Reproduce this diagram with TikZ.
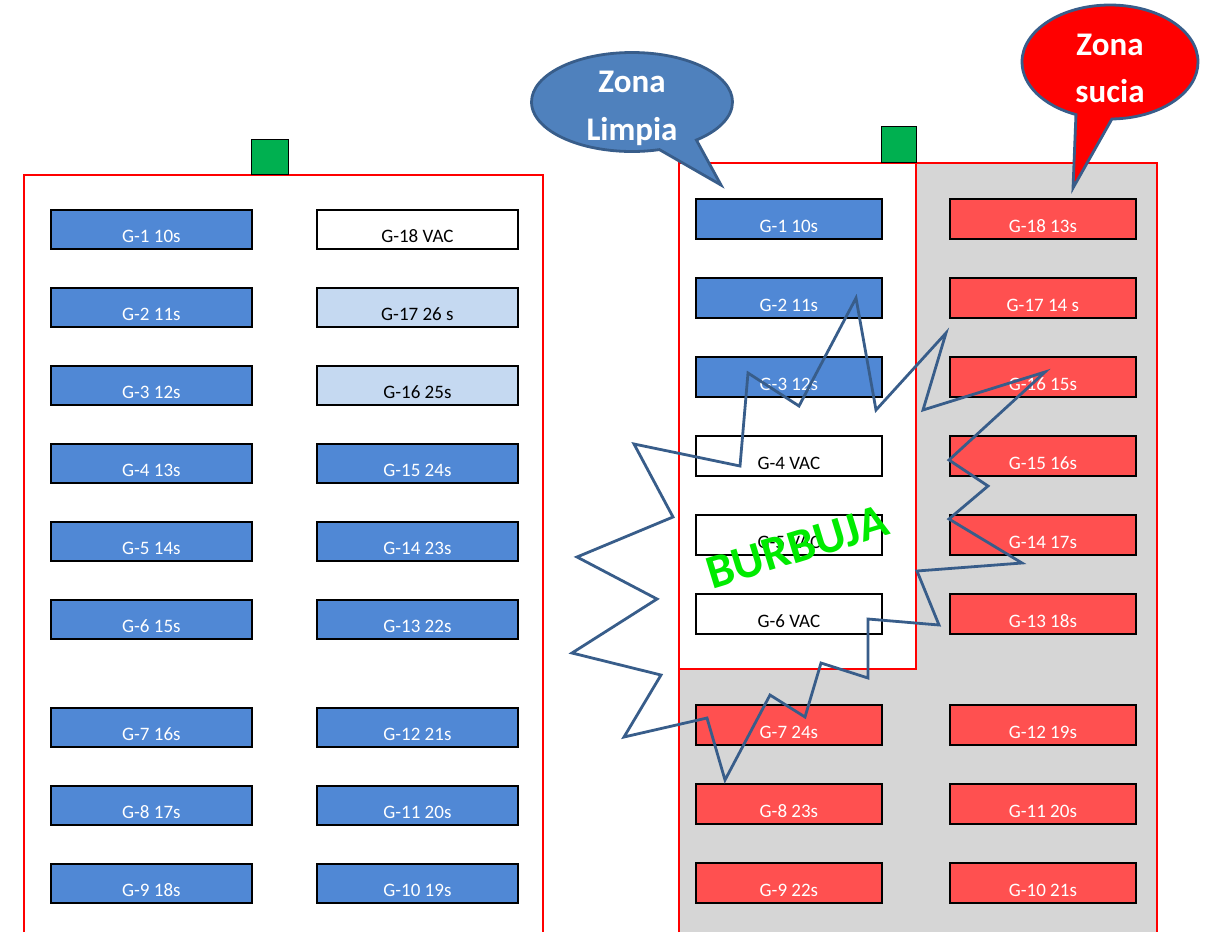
\documentclass[tikz,border=0pt]{standalone}
\usepackage{fontspec}
\setmainfont{Carlito}
\usetikzlibrary{shapes.callouts}
\definecolor{gblue}{RGB}{80,136,213}
\definecolor{glight}{RGB}{197,217,241}
\definecolor{gred}{RGB}{255,80,80}
\definecolor{ggray}{RGB}{214,214,214}
\definecolor{ggreen}{RGB}{0,176,80}
\definecolor{cblue}{RGB}{79,129,189}
\definecolor{cline}{RGB}{56,93,138}
\definecolor{bubgreen}{RGB}{0,235,0}
\tikzset{
  gbox/.style={draw=black, line width=1.8pt, inner sep=0pt, anchor=north west,
    font=\fontsize{19}{21}\selectfont, text depth=6pt},
  leftbox/.style={gbox, minimum width=201pt, minimum height=39pt, text height=33pt},
  rightbox/.style={gbox, minimum width=186pt, minimum height=40pt, text height=34pt},
  bluebox/.style={fill=gblue, text=white},
  lightbox/.style={fill=glight, text=black},
  vacbox/.style={fill=white, text=black},
  redbox/.style={fill=gred, text=white},
  wall/.style={draw=red, line width=1.3pt},
  door/.style={draw=black, line width=0.8pt, fill=ggreen, inner sep=0pt, anchor=south west},
  bubble/.style={ellipse callout, draw=cline, line width=2.8pt, inner sep=0pt,
    callout pointer arc=24},
  bubtext/.style={text=white, anchor=base, font=\bfseries\fontsize{33}{40}\selectfont},
}
\begin{document}
\begin{tikzpicture}[x=1pt, y=-1pt]
\useasboundingbox (0,0) rectangle (1205,932);
\fill[white] (0,0) rectangle (1205,932);

% ---- left room ----
\draw[wall] (24,932) -- (24,175) -- (543,175) -- (543,932);
\node[door, minimum width=37pt, minimum height=35pt] (doorL) at (251,175) {};

\foreach \n/\y/\t in {1/209/G-1 10s, 2/287/G-2 11s, 3/365/G-3 12s, 4/443/G-4 13s,
    5/521/G-5 14s, 6/599/G-6 15s, 7/707/G-7 16s, 8/785/G-8 17s, 9/863/G-9 18s}
  \node[leftbox, bluebox] (La\n) at (50,\y) {\t};

\node[leftbox, vacbox]   (Lb1) at (316,209) {G-18 VAC};
\node[leftbox, lightbox] (Lb2) at (316,287) {G-17 26 s};
\node[leftbox, lightbox] (Lb3) at (316,365) {G-16 25s};
\foreach \n/\y/\t in {4/443/G-15 24s, 5/521/G-14 23s, 6/599/G-13 22s,
    7/707/G-12 21s, 8/785/G-11 20s, 9/863/G-10 19s}
  \node[leftbox, bluebox] (Lb\n) at (316,\y) {\t};

% ---- right room: dirty zone with clean zone inside ----
\fill[ggray] (679,163) rectangle (1157,932);
\draw[wall] (679,932) -- (679,163) -- (1157,163) -- (1157,932);
\filldraw[wall, fill=white] (679,163) rectangle (916,669);
\node[door, minimum width=35pt, minimum height=36pt] (doorR) at (881,163) {};

\foreach \n/\y/\t in {1/198/G-1 10s, 2/277/G-2 11s, 3/356/G-3 12s}
  \node[rightbox, bluebox] (Ra\n) at (695,\y) {\t};
\foreach \n/\y/\t in {4/435/G-4 VAC, 5/514/G-5 VAC, 6/593/G-6 VAC}
  \node[rightbox, vacbox] (Ra\n) at (695,\y) {\t};
\foreach \n/\y/\t in {7/704/G-7 24s, 8/783/G-8 23s, 9/862/G-9 22s}
  \node[rightbox, redbox] (Ra\n) at (695,\y) {\t};
\foreach \n/\y/\t in {1/198/G-18 13s, 2/277/G-17 14 s, 3/356/G-16 15s,
    4/435/G-15 16s, 5/514/G-14 17s, 6/593/G-13 18s, 7/704/G-12 19s,
    8/783/G-11 20s, 9/862/G-10 21s}
  \node[rightbox, redbox] (Rb\n) at (949,\y) {\t};

% ---- bubble outline (starburst) ----
\draw[cline, line width=2.8pt, line join=miter]
  (856,298) -- (876,410) -- (946,333) -- (923,410) -- (1045,372)
  -- (949,460) -- (988,486) -- (949,519) -- (1022,563) -- (917,571)
  -- (939,625) -- (868,619) -- (868,678) -- (821,663) -- (805,717)
  -- (770,695) -- (725,780) -- (707,718) -- (624,737) -- (661,675)
  -- (572,653) -- (657,599) -- (577,557) -- (673,517) -- (634,444)
  -- (740,466) -- (748,373) -- (799,406) -- cycle;
\node[text=bubgreen, rotate=17, font=\bfseries\fontsize{48}{50}\selectfont]
  (burbuja) at (797,547) {BURBUJA};

% ---- zone callouts ----
\node[bubble, fill=cblue, minimum width=201pt, minimum height=99pt,
  callout absolute pointer={(721,185)}] (limpia) at (632,102) {};
\node[bubtext] (limpiaA) at (632,92) {Zona};
\node[bubtext] (limpiaB) at (632,140) {Limpia};

\node[bubble, fill=red, minimum width=176pt, minimum height=114pt,
  callout absolute pointer={(1073,188)}] (sucia) at (1110,62) {};
\node[bubtext] (suciaA) at (1110,55) {Zona};
\node[bubtext] (suciaB) at (1110,102) {sucia};
\end{tikzpicture}
\end{document}
